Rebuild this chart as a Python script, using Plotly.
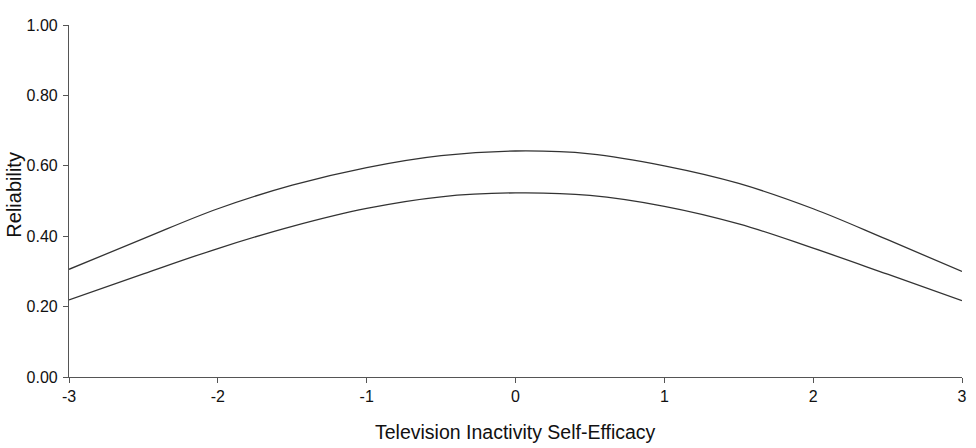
import plotly.graph_objects as go

x_vals = [-3, -2.5, -2, -1.5, -1, -0.5, 0, 0.5, 1, 1.5, 2, 2.5, 3]
upper_rel = [0.306, 0.393, 0.478, 0.545, 0.595, 0.629, 0.642, 0.634, 0.600, 0.550, 0.478, 0.390, 0.300]
lower_rel = [0.219, 0.293, 0.365, 0.428, 0.479, 0.512, 0.523, 0.516, 0.485, 0.435, 0.366, 0.292, 0.217]

x_ticks = [-3, -2, -1, 0, 1, 2, 3]
y_ticks = [0, 0.2, 0.4, 0.6, 0.8, 1.0]

fig = go.Figure()
for ys in (upper_rel, lower_rel):
    fig.add_trace(go.Scatter(x=x_vals, y=ys, mode="lines",
                             line=dict(color="#333333", width=1.3, shape="spline", smoothing=1.1),
                             showlegend=False, hoverinfo="skip"))

font_fam = "Liberation Sans, Arial, sans-serif"
fig.update_layout(
    width=976, height=448,
    margin=dict(l=69, r=9, t=25, b=71),
    paper_bgcolor="white", plot_bgcolor="white",
    font=dict(family=font_fam, color="#111111"),
    annotations=[
        dict(text="Television Inactivity Self-Efficacy", xref="paper", yref="paper",
             x=0.5, y=0, yshift=-55, xanchor="center", yanchor="middle",
             showarrow=False, font=dict(size=19.5, family=font_fam, color="#111111")),
        dict(text="Reliability", xref="paper", yref="paper",
             x=0, y=0.518, xshift=-68, xanchor="left", yanchor="middle", textangle=-90,
             showarrow=False, font=dict(size=20, family=font_fam, color="#111111")),
    ],
)
fig.update_xaxes(range=[-3, 3], tickvals=x_ticks, ticktext=[str(t) for t in x_ticks],
                 showgrid=False, zeroline=False, showline=True, linecolor="#555555", linewidth=1.2,
                 ticks="outside", ticklen=5, tickcolor="#555555", tickfont=dict(size=16))
fig.update_yaxes(range=[0, 1.0], tickvals=y_ticks, ticktext=[f"{t:.2f}" for t in y_ticks],
                 showgrid=False, zeroline=False, showline=True, linecolor="#555555", linewidth=1.2,
                 ticks="outside", ticklen=5, tickcolor="#555555", tickfont=dict(size=16),
                 ticklabelstandoff=2)

fig.write_html("out.html")
